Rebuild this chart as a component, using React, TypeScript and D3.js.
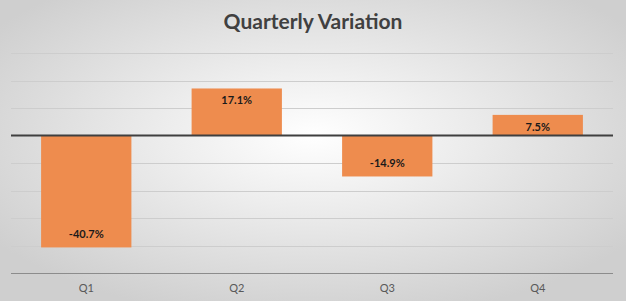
import React, { useRef, useEffect } from "react";
import * as d3 from "d3";

const quarters = ["Q1", "Q2", "Q3", "Q4"];
const variation = [-40.7, 17.1, -14.9, 7.5];
const gridTicks = [30, 20, 10, -10, -20, -30, -40, -50];

const dims = { width: 626, height: 301 };
const plot = { left: 11, right: 613, top: 53, bottom: 273 };

const App = () => {
    const canvas = useRef<SVGSVGElement | null>(null);

    useEffect(() => {
        const svg = d3.select(canvas.current);
        svg.selectAll("*").remove();

        const defs = svg.append("defs");
        const grad = defs
            .append("radialGradient")
            .attr("id", "bg")
            .attr("cx", "50%")
            .attr("cy", "45%")
            .attr("r", "62%");
        grad.append("stop").attr("offset", "0%").attr("stop-color", "#ffffff");
        grad.append("stop").attr("offset", "100%").attr("stop-color", "#cfcfcf");

        svg.append("rect")
            .attr("width", dims.width)
            .attr("height", dims.height)
            .attr("fill", "url(#bg)");

        const x = d3
            .scaleBand()
            .domain(quarters)
            .range([plot.left, plot.right])
            .paddingInner(0.4)
            .paddingOuter(0.2);

        const y = d3.scaleLinear().domain([-50, 30]).range([plot.bottom, plot.top]);

        // gridlines
        svg.append("g")
            .selectAll("line")
            .data(gridTicks)
            .enter()
            .append("line")
            .attr("x1", plot.left)
            .attr("x2", plot.right)
            .attr("y1", (d) => Math.round(y(d)) + 0.5)
            .attr("y2", (d) => Math.round(y(d)) + 0.5)
            .attr("stroke", (d) => (d === -50 ? "#8c8c8c" : "#cdcdcd"))
            .attr("stroke-width", 1);

        // bars
        svg.append("g")
            .selectAll("rect")
            .data(variation)
            .enter()
            .append("rect")
            .attr("x", (d, i) => x(quarters[i]) as number)
            .attr("width", x.bandwidth())
            .attr("y", (d) => y(Math.max(0, d)))
            .attr("height", (d) => Math.abs(y(d) - y(0)))
            .attr("fill", "#ee8c4e");

        // zero line
        svg.append("line")
            .attr("x1", plot.left)
            .attr("x2", plot.right)
            .attr("y1", y(0))
            .attr("y2", y(0))
            .attr("stroke", "#3f3f3f")
            .attr("stroke-width", 2);

        // data labels
        svg.append("g")
            .selectAll("text")
            .data(variation)
            .enter()
            .append("text")
            .attr("x", (d, i) => (x(quarters[i]) as number) + x.bandwidth() / 2)
            .attr("y", (d) => (d >= 0 ? y(d) + 16 : y(d) - 9))
            .attr("text-anchor", "middle")
            .attr("font-family", "Lato, sans-serif")
            .attr("font-weight", "bold")
            .attr("font-size", 11)
            .attr("fill", "#1a1a1a")
            .text((d) => d.toFixed(1) + "%");

        // category labels
        svg.append("g")
            .selectAll("text")
            .data(quarters)
            .enter()
            .append("text")
            .attr("x", (d) => (x(d) as number) + x.bandwidth() / 2)
            .attr("y", 292)
            .attr("text-anchor", "middle")
            .attr("font-family", "Lato, sans-serif")
            .attr("font-size", 11)
            .attr("fill", "#595959")
            .text((d) => d);

        svg.append("text")
            .attr("x", dims.width / 2)
            .attr("y", 29)
            .attr("text-anchor", "middle")
            .attr("font-family", "Lato, sans-serif")
            .attr("font-weight", "bold")
            .attr("font-size", 21)
            .attr("fill", "#404040")
            .text("Quarterly Variation");
    }, []);

    return (
        <svg
            ref={canvas}
            width={dims.width}
            height={dims.height}
            style={{ position: "absolute", left: 0, top: 0 }}
        />
    );
};

export default App;
